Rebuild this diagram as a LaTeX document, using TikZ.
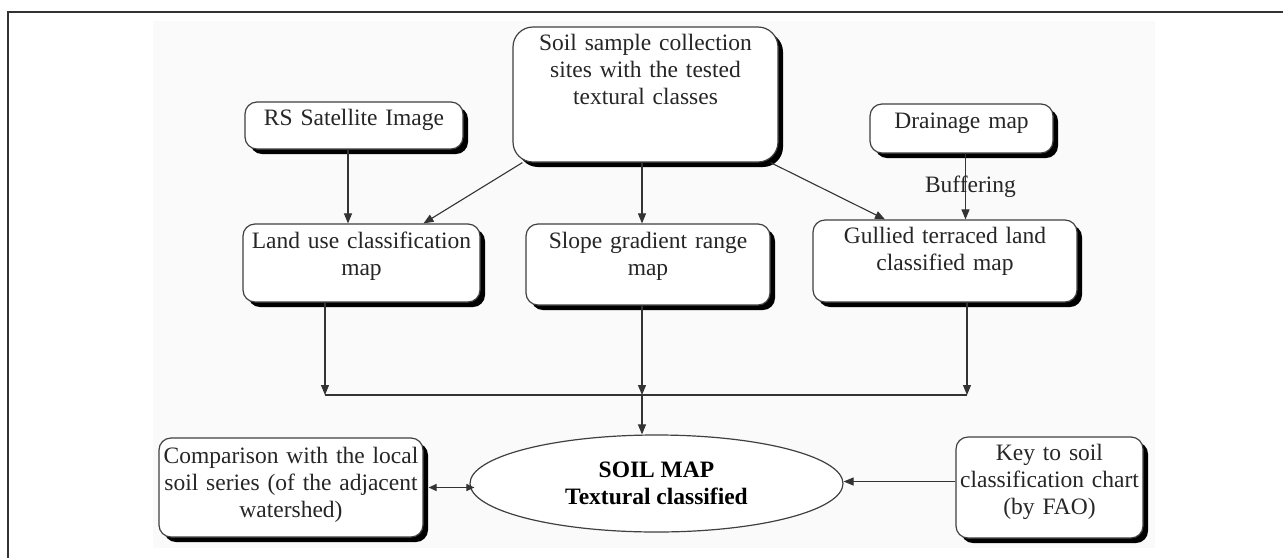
\documentclass[tikz,border=0pt]{standalone}
\usepackage{fontspec}
\setmainfont{Liberation Serif}
\usepackage{tikz}
\usetikzlibrary{shapes.geometric,arrows.meta,positioning,shadows}

\begin{document}
\begin{tikzpicture}[
  x=1pt, y=-1pt,
  box/.style={draw=black!75, line width=1.2pt, rounded corners=12pt, fill=white,
              align=center, inner xsep=3pt, inner ysep=0pt, text height=0pt,
              text=black!85, font=\fontsize{23.5}{27}\selectfont,
              drop shadow={shadow xshift=5pt, shadow yshift=-5pt, opacity=1, fill=black}},
  lift/.style={text depth=#1},
  oval/.style={ellipse, draw=black!75, line width=1.2pt, fill=white, align=center,
               minimum width=373pt, minimum height=97pt, text=black,
               font=\bfseries\fontsize{23.5}{27}\selectfont},
  lbl/.style={text=black!85, font=\fontsize{23.5}{27}\selectfont},
  arr/.style={-{Triangle[length=10pt, width=8pt]}, line width=1.1pt, black!80},
  dbl/.style={{Triangle[length=8pt, width=7pt]}-{Triangle[length=8pt, width=7pt]},
              line width=1.1pt, black!80}
]
\useasboundingbox (0,0) rectangle (1283,558);
\fill[gray!4] (153,21) rectangle (1155,548);
\draw[line width=1.5pt, black!80] (8,558) -- (8,12) -- (1283,12);

% top row
\node[box, rounded corners=20pt, text width=259pt, minimum width=265pt, minimum height=135pt, lift=88pt]
  (soil) at (645.5,94.5) {Soil sample collection\\ sites with the tested\\ textural classes};
\node[box, text width=212pt, minimum width=218pt, minimum height=47pt, lift=0pt]
  (rs) at (354,125.5) {RS Satellite Image};
\node[box, text width=177pt, minimum width=183pt, minimum height=49pt, lift=0pt]
  (drain) at (961.5,128.5) {Drainage map};

% middle row
\node[box, text width=231pt, minimum width=237pt, minimum height=78pt, lift=29pt]
  (land) at (361.5,263) {Land use classification\\ map};
\node[box, text width=238pt, minimum width=244pt, minimum height=81pt, lift=32pt]
  (slope) at (648,264.5) {Slope gradient range\\ map};
\node[box, text width=258pt, minimum width=264pt, minimum height=82pt, lift=35pt]
  (gully) at (945,261) {Gullied terraced land\\ classified map};

% bottom row
\node[oval] (soilmap) at (656.5,483.5) {SOIL MAP\\ Textural classified};
\node[box, text width=258pt, minimum width=264pt, minimum height=99pt, lift=48pt]
  (comp) at (291,487.5) {Comparison with the local\\ soil series (of the adjacent\\ watershed)};
\node[box, text width=181pt, minimum width=187pt, minimum height=101pt, lift=54pt]
  (key) at (1049.5,487.5) {Key to soil\\ classification chart\\ (by FAO)};

\coordinate (jl) at (325,395);
\coordinate (jm) at (642,395);
\coordinate (jr) at (967,395);

\draw[arr] ([xshift=-6pt]rs.south) -- ([xshift=-6pt]rs.south |- land.north);
\draw[arr] ([xshift=10pt]soil.south west) -- ([xshift=62pt]land.north);
\draw[arr] (jm |- soil.south) -- (jm |- slope.north);
\draw[arr] ([xshift=-8pt]soil.south east) -- ([xshift=-60pt]gully.north);
\draw[arr] ([xshift=4pt]drain.south) -- ([xshift=4pt]drain.south |- gully.north)
  node[lbl, midway, xshift=5pt] (buf) {Buffering};

\draw[arr] (land.south -| jl) -- (jl);
\draw[arr] (slope.south -| jm) -- (jm);
\draw[arr] (gully.south -| jr) -- (jr);
\draw[line width=1.1pt, black!80] (jl) -- (jr);
\draw[arr] (jm) -- (jm |- soilmap.north);

\draw[arr] ([yshift=6pt]key.west) -- ([yshift=6pt]key.west -| soilmap.east);
\draw[dbl] ([xshift=5pt]comp.east) -- ([xshift=5pt]comp.east -| soilmap.west);
\end{tikzpicture}
\end{document}
